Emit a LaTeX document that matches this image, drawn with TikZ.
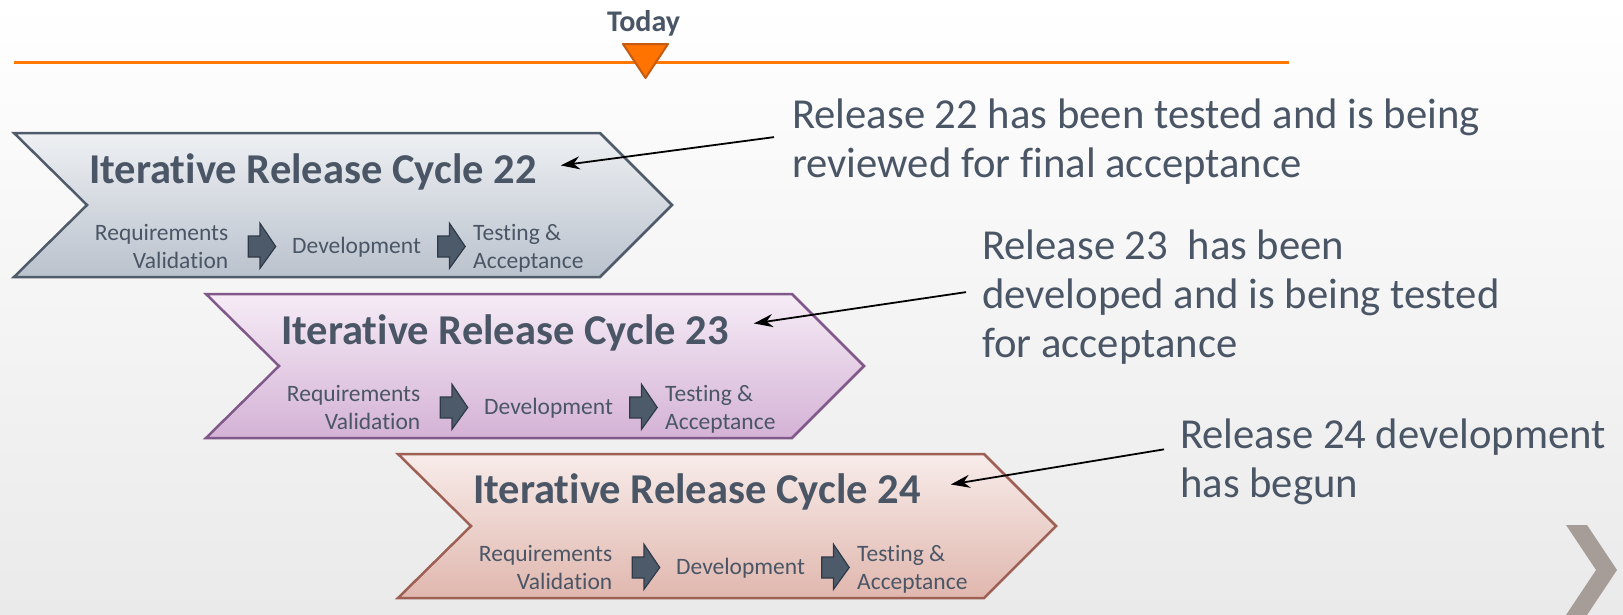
\documentclass[tikz,border=0pt]{standalone}
\usepackage{fontspec}
\setmainfont{Carlito}[Ligatures=NoCommon]
\usetikzlibrary{arrows.meta}
\definecolor{txt}{RGB}{74,86,102}
\definecolor{bgb}{RGB}{234,234,234}
\definecolor{orangeline}{RGB}{255,120,0}
\definecolor{orangefill}{RGB}{255,115,0}
\definecolor{orangedraw}{RGB}{197,90,17}
\definecolor{ctop}{RGB}{238,240,243}
\definecolor{cbot}{RGB}{186,194,205}
\definecolor{cline}{RGB}{79,91,106}
\definecolor{ptop}{RGB}{246,236,246}
\definecolor{pbot}{RGB}{212,178,214}
\definecolor{pline}{RGB}{128,88,138}
\definecolor{rtop}{RGB}{248,236,234}
\definecolor{rbot}{RGB}{224,183,174}
\definecolor{rline}{RGB}{158,96,84}
\definecolor{afill}{RGB}{76,90,106}
\definecolor{adraw}{RGB}{47,58,72}
\definecolor{graychev}{RGB}{166,157,152}
\tikzset{
  chevbox/.style={line width=2.5pt, line join=miter},
  ttl/.style={font=\bfseries\fontsize{42.5}{42.5}\selectfont, text=txt, inner sep=0pt},
  sml/.style={font=\fontsize{23.5}{28}\selectfont, text=txt, inner sep=0pt},
  call/.style={font=\fontsize{42.7}{49}\selectfont, text=txt, inner sep=0pt, align=left},
  blockarrow/.style={fill=afill, draw=adraw, line width=1.2pt, line join=miter},
  callarrow/.style={draw=black, line width=1.8pt, -{Stealth[length=19pt,width=13pt]}},
  todaylbl/.style={font=\bfseries\fontsize{30}{30}\selectfont, text=txt, inner sep=0pt}
}
\begin{document}
\begin{tikzpicture}[x=1pt,y=-1pt]
\useasboundingbox (0,0) rectangle (1623,614);
\shade[top color=white, bottom color=bgb] (0,0) rectangle (1623,614);

% timeline
\coordinate (lstart) at (14,62);
\coordinate (lend) at (1289,62);
\draw[orangeline, line width=3pt] (lstart) -- (lend);
\node[todaylbl, anchor=base] (today) at (643.5,31) {Today};
\draw[fill=orangefill, draw=orangedraw, line width=2pt, line join=round] (623,44) -- (668,44) -- (645.5,78) -- cycle;

% chevron 22
\begin{scope}[shift={(14,133)}]
\shade[top color=ctop, bottom color=cbot] (0,0) -- (586,0) -- (658,72) -- (586,144) -- (0,144) -- (73,72) -- cycle;
\draw[chevbox, cline] (0,0) -- (586,0) -- (658,72) -- (586,144) -- (0,144) -- (73,72) -- cycle;
\node[ttl, anchor=base west] (t22) at (75,50) {Iterative Release Cycle 22};
\node[sml, anchor=base east, align=right] (rv22) at (214.5,135) {Requirements\\Validation};
\draw[blockarrow] (234.3,103) -- (246,103) -- (246,90.3) -- (261.7,113.5) -- (246,135.3) -- (246,124) -- (234.3,124) -- cycle;
\node[sml, anchor=base west] (d22) at (278,120) {Development};
\draw[blockarrow] (423.8,103) -- (435.5,103) -- (435.5,90.3) -- (451.2,113.5) -- (435.5,135.3) -- (435.5,124) -- (423.8,124) -- cycle;
\node[sml, anchor=base west, align=left] (ta22) at (459,135) {Testing \&\\Acceptance};
\end{scope}

% chevron 23
\begin{scope}[shift={(206,294)}]
\shade[top color=ptop, bottom color=pbot] (0,0) -- (586,0) -- (658,72) -- (586,144) -- (0,144) -- (73,72) -- cycle;
\draw[chevbox, pline] (0,0) -- (586,0) -- (658,72) -- (586,144) -- (0,144) -- (73,72) -- cycle;
\node[ttl, anchor=base west] (t23) at (75,50) {Iterative Release Cycle 23};
\node[sml, anchor=base east, align=right] (rv23) at (214.5,135) {Requirements\\Validation};
\draw[blockarrow] (234.3,103) -- (246,103) -- (246,90.3) -- (261.7,113.5) -- (246,135.3) -- (246,124) -- (234.3,124) -- cycle;
\node[sml, anchor=base west] (d23) at (278,120) {Development};
\draw[blockarrow] (423.8,103) -- (435.5,103) -- (435.5,90.3) -- (451.2,113.5) -- (435.5,135.3) -- (435.5,124) -- (423.8,124) -- cycle;
\node[sml, anchor=base west, align=left] (ta23) at (459,135) {Testing \&\\Acceptance};
\end{scope}

% chevron 24
\begin{scope}[shift={(398,454)}]
\shade[top color=rtop, bottom color=rbot] (0,0) -- (586,0) -- (658,72) -- (586,144) -- (0,144) -- (73,72) -- cycle;
\draw[chevbox, rline] (0,0) -- (586,0) -- (658,72) -- (586,144) -- (0,144) -- (73,72) -- cycle;
\node[ttl, anchor=base west] (t24) at (75,49) {Iterative Release Cycle 24};
\node[sml, anchor=base east, align=right] (rv24) at (214.5,135) {Requirements\\Validation};
\draw[blockarrow] (234.3,103) -- (246,103) -- (246,90.3) -- (261.7,113.5) -- (246,135.3) -- (246,124) -- (234.3,124) -- cycle;
\node[sml, anchor=base west] (d24) at (278,120) {Development};
\draw[blockarrow] (423.8,103) -- (435.5,103) -- (435.5,90.3) -- (451.2,113.5) -- (435.5,135.3) -- (435.5,124) -- (423.8,124) -- cycle;
\node[sml, anchor=base west, align=left] (ta24) at (459,135) {Testing \&\\Acceptance};
\end{scope}

% callouts
\node[call, anchor=base west] (c22) at (792,177) {Release 22 has been tested and is being\\reviewed for final acceptance};
\node[call, anchor=base west] (c23) at (982,357) {Release 23\ \ has been\\developed and is being tested\\for acceptance};
\node[call, anchor=base west] (c24) at (1180,497) {Release 24 development\\has begun};

\draw[callarrow] ([xshift=-18pt,yshift=4pt]c22.west) -- ([xshift=24pt,yshift=6pt]t22.east);
\draw[callarrow] ([xshift=-16pt,yshift=4.5pt]c23.west) -- ([xshift=25pt,yshift=9pt]t23.east);
\draw[callarrow] ([xshift=-16pt,yshift=12pt]c24.west) -- ([xshift=30pt,yshift=7pt]t24.east);

% gray chevron bottom right
\fill[graychev] (1566,525) -- (1587,525) -- (1617,570) -- (1587,615) -- (1566,615) -- (1596,570) -- cycle;
\end{tikzpicture}
\end{document}
